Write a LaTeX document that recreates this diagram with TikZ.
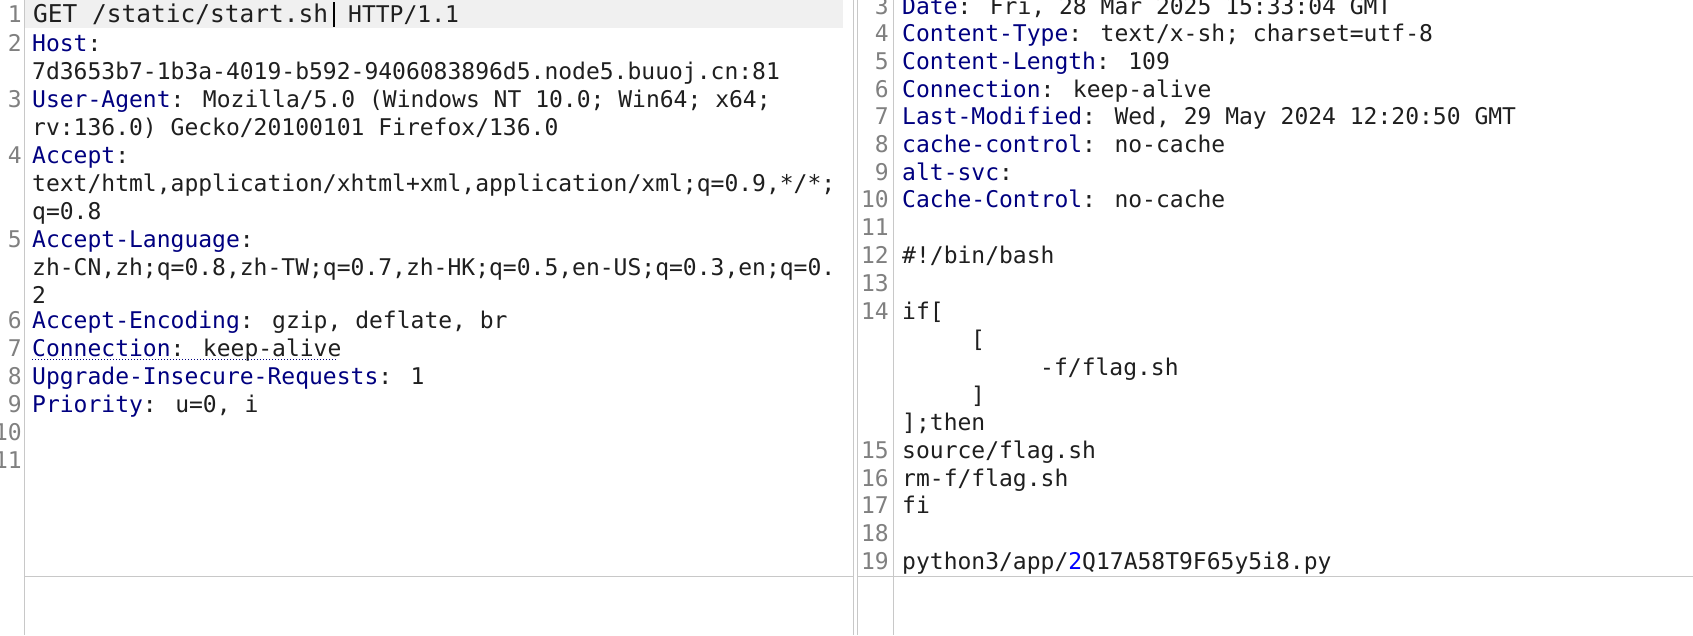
\documentclass[tikz,border=0pt]{standalone}
\usepackage{fontspec}
\newfontfamily\mono{DejaVu Sans Mono}
\definecolor{hdr}{HTML}{000080}
\definecolor{txt}{HTML}{1F1F1F}
\definecolor{lnum}{HTML}{808080}
\definecolor{rule}{HTML}{C8C8C8}
\tikzset{
  code/.style={anchor=base west,inner sep=0pt,text=txt,font=\mono\fontsize{23}{28}\selectfont},
  num/.style={anchor=base east,inner sep=0pt,text=lnum,font=\mono\fontsize{23}{28}\selectfont},
}
\newcommand\hd[1]{\textcolor{hdr}{#1}}
\begin{document}
\begin{tikzpicture}[x=1pt,y=-1pt]
\useasboundingbox[fill=white] (0,0) rectangle (1693,635);
% left panel
\fill[black!6] (25,0) rectangle (843,28);
\draw[rule] (24.5,0) -- (24.5,635);
\draw[rule] (25,576.5) -- (853,576.5);
\draw[rule] (853.5,0) -- (853.5,635);
\foreach \n/\y in {1/14,2/43,3/99,4/155,5/239,6/320,7/348,8/376,9/404,10/432,11/460}
  \node[num] at (22,\y+8) {\n};
\node[code,font=\mono\fontsize{24.5}{28}\selectfont] at (33,22) {GET /static/start.sh};
\draw[black,line width=1.2pt] (334,2) -- (334,27);
\node[code] at (348,22) {HTTP/1.1};
\node[code] at (32,51) {\hd{Host}:};
\node[code] at (32,79) {7d3653b7-1b3a-4019-b592-9406083896d5.node5.buuoj.cn:81};
\node[code] at (32,107) {\hd{User-Agent}: Mozilla/5.0 (Windows NT 10.0; Win64; x64;};
\node[code] at (32,135) {rv:136.0) Gecko/20100101 Firefox/136.0};
\node[code] at (32,163) {\hd{Accept}:};
\node[code] at (32,191) {text/html,application/xhtml+xml,application/xml;q=0.9,*/*;};
\node[code] at (32,219) {q=0.8};
\node[code] at (32,247) {\hd{Accept-Language}:};
\node[code] at (32,275) {zh-CN,zh;q=0.8,zh-TW;q=0.7,zh-HK;q=0.5,en-US;q=0.3,en;q=0.};
\node[code] at (32,303) {2};
\node[code] at (32,328) {\hd{Accept-Encoding}: gzip, deflate, br};
\node[code] at (32,356) {\hd{Connection}: keep-alive};
\draw[hdr,dotted,line width=1pt] (32,359) -- (337,359);
\node[code] at (32,384) {\hd{Upgrade-Insecure-Requests}: 1};
\node[code] at (32,412) {\hd{Priority}: u=0, i};
% right panel
\draw[rule] (857.5,0) -- (857.5,635);
\draw[rule] (893.5,0) -- (893.5,635);
\draw[rule] (857,576.5) -- (1693,576.5);
\foreach \n/\y in {3/6,4/33,5/61,6/89,7/116,8/144,9/172,10/199,11/227,12/255,13/283,14/311,15/450,16/478,17/505,18/533,19/561}
  \node[num] at (889,\y+8) {\n};
\node[code] at (902,14) {\hd{Date}: Fri, 28 Mar 2025 15:33:04 GMT};
\node[code] at (902,41) {\hd{Content-Type}: text/x-sh; charset=utf-8};
\node[code] at (902,69) {\hd{Content-Length}: 109};
\node[code] at (902,97) {\hd{Connection}: keep-alive};
\node[code] at (902,124) {\hd{Last-Modified}: Wed, 29 May 2024 12:20:50 GMT};
\node[code] at (902,152) {\hd{cache-control}: no-cache};
\node[code] at (902,180) {\hd{alt-svc}:};
\node[code] at (902,207) {\hd{Cache-Control}: no-cache};
\node[code] at (902,263) {\#!/bin/bash};
\node[code] at (902,319) {if[};
\node[code] at (971,347) {[};
\node[code] at (1040,375) {-f/flag.sh};
\node[code] at (971,403) {]};
\node[code] at (902,430) {];then};
\node[code] at (902,458) {source/flag.sh};
\node[code] at (902,486) {rm-f/flag.sh};
\node[code] at (902,513) {fi};
\node[code] at (902,569) {python3/app/\textcolor{blue}{2}Q17A58T9F65y5i8.py};
\end{tikzpicture}
\end{document}
